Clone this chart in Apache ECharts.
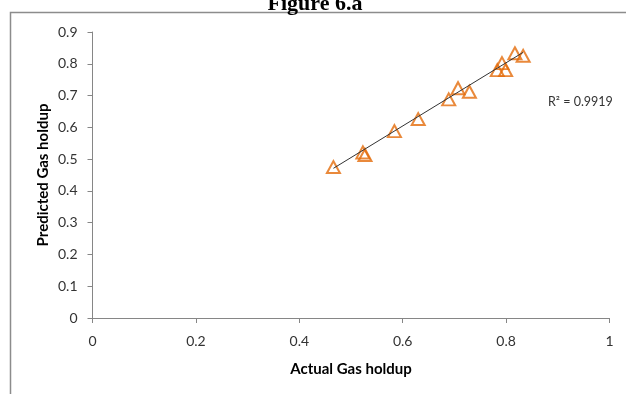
<!DOCTYPE html>
<html>
<head>
<meta charset="utf-8">
<script src="https://cdn.jsdelivr.net/npm/echarts@6/dist/echarts.min.js"></script>
<style>
html,body{margin:0;padding:0;background:#fff;}
#chart{width:626px;height:394px;}
</style>
</head>
<body>
<div id="chart"></div>
<script>
// Actual (x) vs Predicted (y) gas holdup
var actual    = [0.466, 0.523, 0.527, 0.584, 0.630, 0.689, 0.707, 0.729, 0.783, 0.792, 0.799, 0.817, 0.833];
var predicted = [0.475, 0.521, 0.513, 0.588, 0.626, 0.688, 0.723, 0.712, 0.780, 0.802, 0.780, 0.833, 0.825];
// Linear trendline end points
var trendX = [0.466, 0.833];
var trendY = [0.471, 0.836];
var xTicks = [0, 0.2, 0.4, 0.6, 0.8, 1];
var yTicks = [0, 0.1, 0.2, 0.3, 0.4, 0.5, 0.6, 0.7, 0.8, 0.9];
var titleText = 'Figure 6.a';
var r2Text = 'R² = 0.9919';

var pts = actual.map(function (x, i) { return [x, predicted[i]]; });
var trend = trendX.map(function (x, i) { return [x, trendY[i]]; });

var chart = echarts.init(document.getElementById('chart'), null, {renderer: 'canvas'});
var font = 'Lato, "Open Sans", sans-serif';
chart.setOption({
  animation: false,
  backgroundColor: '#fff',
  grid: {left: 92.5, right: 16.5, top: 32, bottom: 76, containLabel: false},
  xAxis: {
    type: 'value', min: 0, max: 1, interval: 0.2,
    name: 'Actual Gas holdup', nameLocation: 'middle', nameGap: 44,
    nameTextStyle: {fontFamily: font, fontWeight: 'bold', fontSize: 15, color: '#000'},
    axisLine: {show: true, lineStyle: {color: '#868686', width: 1}},
    axisTick: {show: true, length: 5, lineStyle: {color: '#868686'}},
    axisLabel: {fontFamily: font, fontSize: 14, color: '#333', margin: 16,
      formatter: function (v) { var r = +v.toFixed(1); return xTicks.indexOf(r) >= 0 ? String(r) : ''; }},
    splitLine: {show: false}
  },
  yAxis: {
    type: 'value', min: 0, max: 0.9, interval: 0.1,
    name: 'Predicted Gas holdup', nameLocation: 'middle', nameGap: 42, nameRotate: 90,
    nameMoveOverlap: false,
    nameTextStyle: {fontFamily: font, fontWeight: 'bold', fontSize: 15, color: '#000'},
    axisLine: {show: true, lineStyle: {color: '#868686', width: 1}},
    axisTick: {show: true, length: 5, lineStyle: {color: '#868686'}},
    axisLabel: {fontFamily: font, fontSize: 14, color: '#333', margin: 15,
      formatter: function (v) { var r = +v.toFixed(1); return yTicks.indexOf(r) >= 0 ? String(r) : ''; }},
    splitLine: {show: false}
  },
  graphic: [
    {type: 'rect', shape: {x: 10.5, y: 12.5, width: 800, height: 600}, silent: true,
     style: {fill: 'none', stroke: '#8c8c8c', lineWidth: 1.5}, z: -1},
    {type: 'text', x: 315, y: -7, silent: true,
     style: {text: titleText, align: 'center', verticalAlign: 'top',
       font: 'bold 22px "Liberation Serif", "Times New Roman", serif', fill: '#000'}},
    {type: 'text', x: 548, y: 102, silent: true,
     style: {text: r2Text, align: 'left', verticalAlign: 'middle',
       font: '12.5px Lato, "Open Sans", sans-serif', fill: '#333'}}
  ],
  series: [
    {type: 'scatter', data: pts, symbol: 'triangle', symbolSize: [13, 12],
     itemStyle: {color: 'rgba(0,0,0,0)', borderColor: '#E46C0A', borderWidth: 2}, z: 2},
    {type: 'line', data: trend, symbol: 'none', lineStyle: {color: '#333', width: 1}, z: 3}
  ]
});
</script>
</body>
</html>
